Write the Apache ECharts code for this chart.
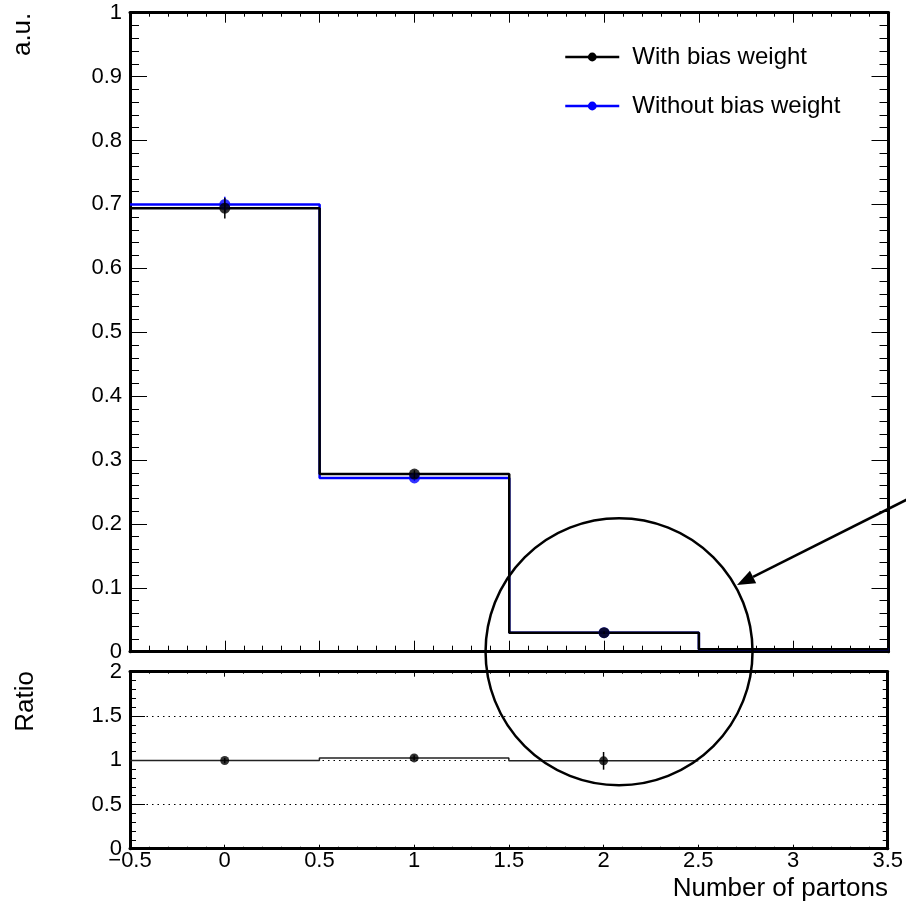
<!DOCTYPE html>
<html>
<head>
<meta charset="utf-8">
<script src="https://cdn.jsdelivr.net/npm/echarts@6/dist/echarts.min.js"></script>
<style>
  html, body { margin: 0; padding: 0; background: #fff; }
  #chart { width: 906px; height: 903px; }
</style>
</head>
<body>
<div id="chart"></div>
<script>
// histogram bins
const binEdges = [-0.5, 0.5, 1.5, 2.5, 3.5]
const binCenters = [0, 1, 2]
const withBias = [0.694, 0.278, 0.0297, 0.004]
const withoutBias = [0.700, 0.272, 0.0297, 0.004]
const withBiasErr = [0.016, 0.006, 0.002]
const withoutBiasErr = [0.012, 0.005, 0.002]
// ratio panel
const ratioEdges = [-0.5, 0.5, 1.5, 2.5]
const ratio = [0.996, 1.026, 0.993]
const ratioErr = [0.03, 0.03, 0.10]
// axes
const xRange = [-0.5, 3.5]
const yRange = [0, 1]
const ratioRange = [0, 2]
const legendNames = ['With bias weight', 'Without bias weight']
// annotation (data coords of the top panel)
const circleNote = { center: [2.079, 0], radius: 0.704 }
const arrowNote = { tail: [3.65, 0.246], tip: [2.701, 0.1044] }

const FONT = 'Liberation Sans'
const chart = echarts.init(document.getElementById('chart'))

const stepData = (edges, vals) => edges.map((e, i) => [e, vals[Math.min(i, vals.length - 1)]])
const pointData = (vals) => binCenters.map((c, i) => [c, vals[i]])

function axis(opts) {
  const o = {
    type: 'value',
    gridIndex: opts.grid,
    position: opts.position,
    min: opts.range[0],
    max: opts.range[1],
    interval: opts.interval,
    axisLine: { show: true, onZero: false, lineStyle: { color: '#000', width: 3 } },
    axisTick: { show: true, inside: true, length: opts.major, lineStyle: { color: '#000', width: 1 } },
    minorTick: { show: true, splitNumber: 5, length: opts.minor, lineStyle: { color: '#000', width: 1 } },
    splitLine: { show: false },
    axisLabel: { show: false }
  }
  if (opts.labels) {
    o.axisLabel = {
      show: true,
      color: '#000',
      fontFamily: FONT,
      fontSize: 22,
      margin: opts.margin,
      showMinLabel: true,
      showMaxLabel: true,
      formatter: v => String(+v.toFixed(2)).replace('-', '\u2212')
    }
  }
  return o
}

function errSeries(name, xi, yi, pts, errs, color, z) {
  return {
    type: 'custom',
    name: name,
    xAxisIndex: xi,
    yAxisIndex: yi,
    silent: true,
    z: z,
    data: pts.map((p, i) => [p[0], p[1], errs[i]]),
    renderItem: function (params, api) {
      const x = api.value(0), y = api.value(1), e = api.value(2)
      const lo = api.coord([x, y - e])
      const hi = api.coord([x, y + e])
      return {
        type: 'line',
        shape: { x1: lo[0], y1: lo[1], x2: hi[0], y2: hi[1] },
        style: { stroke: color, lineWidth: 1.5 }
      }
    }
  }
}

const option = {
  animation: false,
  backgroundColor: '#fff',
  grid: [
    { left: 130, top: 12.7, width: 758.5, height: 639 },
    { left: 130, top: 671.7, width: 758.5, height: 177 }
  ],
  legend: {
    data: legendNames,
    orient: 'vertical',
    left: 564,
    top: 45,
    padding: 0,
    itemWidth: 54,
    itemHeight: 11,
    itemGap: 25,
    lineStyle: { width: 2.5 },
    textStyle: { color: '#000', fontFamily: FONT, fontSize: 24, lineHeight: 24, padding: [0, 0, 0, 8] }
  },
  xAxis: [
    axis({ grid: 0, position: 'bottom', range: xRange, interval: 0.5, major: 11, minor: 6 }),
    axis({ grid: 0, position: 'top', range: xRange, interval: 0.5, major: 10, minor: 4 }),
    axis({ grid: 1, position: 'bottom', range: xRange, interval: 0.5, major: 4, minor: 2, labels: true, margin: 1 }),
    axis({ grid: 1, position: 'top', range: xRange, interval: 0.5, major: 5, minor: 2 })
  ],
  yAxis: [
    axis({ grid: 0, position: 'left', range: yRange, interval: 0.1, major: 17, minor: 9, labels: true, margin: 8 }),
    axis({ grid: 0, position: 'right', range: yRange, interval: 0.1, major: 17, minor: 9 }),
    Object.assign(
      axis({ grid: 1, position: 'left', range: ratioRange, interval: 0.5, major: 15, minor: 6, labels: true, margin: 8 }),
      { splitLine: { show: true, lineStyle: { color: '#000', width: 1, type: [1.5, 4] } } }
    ),
    axis({ grid: 1, position: 'right', range: ratioRange, interval: 0.5, major: 8, minor: 5 })
  ],
  series: [
    {
      name: legendNames[1],
      type: 'line',
      step: 'end',
      xAxisIndex: 0,
      yAxisIndex: 0,
      data: stepData(binEdges, withoutBias),
      symbol: 'circle',
      showSymbol: false,
      color: '#0000ff',
      lineStyle: { color: '#0000ff', width: 2.5 },
      z: 2
    },
    {
      name: legendNames[0],
      type: 'line',
      step: 'end',
      xAxisIndex: 0,
      yAxisIndex: 0,
      data: stepData(binEdges, withBias),
      symbol: 'circle',
      showSymbol: false,
      color: '#000',
      lineStyle: { color: '#000', width: 2.5 },
      z: 3
    },
    errSeries('withoutErr', 0, 0, pointData(withoutBias), withoutBiasErr, '#0000ff', 4),
    {
      name: 'withoutPts',
      type: 'scatter',
      xAxisIndex: 0,
      yAxisIndex: 0,
      data: pointData(withoutBias),
      symbol: 'circle',
      symbolSize: 11,
      itemStyle: { color: '#0000ff' },
      z: 5
    },
    errSeries('withErr', 0, 0, pointData(withBias), withBiasErr, '#000', 6),
    {
      name: 'withPts',
      type: 'scatter',
      xAxisIndex: 0,
      yAxisIndex: 0,
      data: pointData(withBias),
      symbol: 'circle',
      symbolSize: 11,
      itemStyle: { color: '#000' },
      z: 7
    },
    // ratio panel
    {
      name: 'ratioLine',
      type: 'line',
      step: 'end',
      xAxisIndex: 2,
      yAxisIndex: 2,
      data: stepData(ratioEdges, ratio),
      showSymbol: false,
      lineStyle: { color: '#222', width: 1.5 },
      z: 3
    },
    errSeries('ratioErr', 2, 2, pointData(ratio), ratioErr, '#000', 4),
    {
      name: 'ratioPts',
      type: 'scatter',
      xAxisIndex: 2,
      yAxisIndex: 2,
      data: pointData(ratio),
      symbol: 'circle',
      symbolSize: 9,
      itemStyle: { color: '#000' },
      z: 5
    }
  ]
}
chart.setOption(option)

// titles and the circle/arrow annotation
const toPx = p => chart.convertToPixel({ gridIndex: 0 }, p)
const c = toPx(circleNote.center)
const r = toPx([circleNote.center[0] + circleNote.radius, 0])[0] - c[0]
const tail = toPx(arrowNote.tail)
const tip = toPx(arrowNote.tip)
const dx = tail[0] - tip[0], dy = tail[1] - tip[1]
const len = Math.sqrt(dx * dx + dy * dy)
const ux = dx / len, uy = dy / len
const headLen = 18, headHalf = 7
const base = [tip[0] + ux * headLen, tip[1] + uy * headLen]

chart.setOption({
  graphic: [
    {
      type: 'circle', z: 100, silent: true,
      shape: { cx: c[0], cy: c[1], r: r },
      style: { fill: 'none', stroke: '#000', lineWidth: 2.5 }
    },
    {
      type: 'line', z: 100, silent: true,
      shape: { x1: tail[0], y1: tail[1], x2: base[0], y2: base[1] },
      style: { stroke: '#000', lineWidth: 2.5 }
    },
    {
      type: 'polygon', z: 100, silent: true,
      shape: { points: [tip, [base[0] - uy * headHalf, base[1] + ux * headHalf], [base[0] + uy * headHalf, base[1] - ux * headHalf]] },
      style: { fill: '#000' }
    },
    {
      type: 'text', x: 888, y: 888.5, z: 100,
      style: { text: 'Number of partons', fill: '#000', fontFamily: FONT, fontSize: 26, align: 'right', verticalAlign: 'middle' }
    },
    {
      type: 'text', x: 23, y: 12.7, rotation: Math.PI / 2, z: 100,
      style: { text: 'a.u.', fill: '#000', fontFamily: FONT, fontSize: 26, align: 'right', verticalAlign: 'middle' }
    },
    {
      type: 'text', x: 26, y: 671, rotation: Math.PI / 2, z: 100,
      style: { text: 'Ratio', fill: '#000', fontFamily: FONT, fontSize: 26, align: 'right', verticalAlign: 'middle' }
    }
  ]
})
</script>
</body>
</html>
